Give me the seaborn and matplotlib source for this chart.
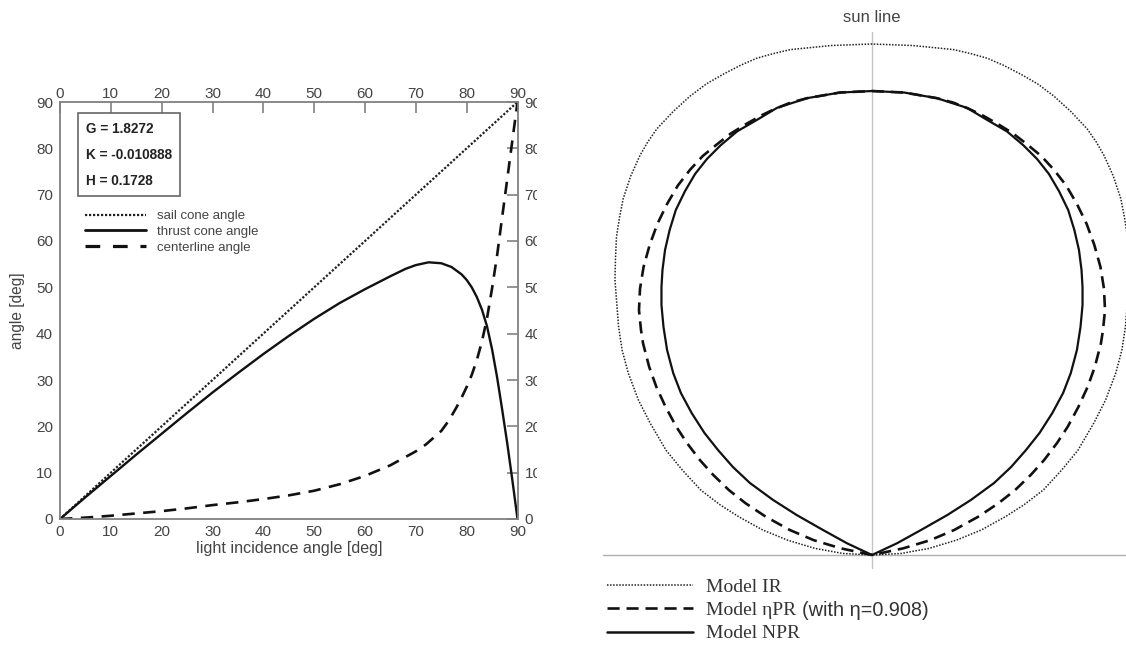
import numpy as np
import matplotlib
matplotlib.use("Agg")
import matplotlib.pyplot as plt
import matplotlib.transforms as mtransforms
import seaborn as sns
from matplotlib.lines import Line2D

# ---------------- left panel data (deg) ----------------
sail_x = [0, 90]
sail_y = [0, 90]
thrust_x = [0, 5, 10, 15, 20, 25, 30, 35, 40, 45, 50, 55, 60, 65, 68, 70, 72.5, 75, 77, 79, 80,
            81, 82, 83, 84, 85, 86, 87, 88, 89, 90]
thrust_y = [0, 4.7, 9.3, 13.9, 18.4, 22.9, 27.3, 31.5, 35.6, 39.5, 43.2, 46.6, 49.6, 52.4, 54.0,
            54.8, 55.4, 55.2, 54.4, 52.8, 51.6, 50.0, 47.9, 45.2, 41.6, 36.6, 30.5, 23.5, 16.2, 8.3, 0]
center_x = [0, 5, 10, 15, 20, 25, 30, 35, 40, 45, 50, 55, 60, 65, 70, 72, 75, 76, 77, 78, 79, 80,
            81, 82, 83, 84, 85, 86, 87, 88, 89, 90]
center_y = [0, 0.3, 0.7, 1.2, 1.7, 2.3, 3.0, 3.6, 4.3, 5.1, 6.1, 7.5, 9.3, 11.6, 14.6, 16.1, 19.0,
            20.5, 22.2, 24.1, 26.2, 28.5, 31.1, 34.3, 38.3, 43.3, 49.8, 57.0, 65.3, 73.5, 81.8, 90]
ticks = [0, 10, 20, 30, 40, 50, 60, 70, 80, 90]
params_text = ["G = 1.8272", "K = -0.010888", "H = 0.1728"]
left_labels = ["sail cone angle", "thrust cone angle", "centerline angle"]

# ---------------- right panel data: right half of each force bubble ----------------
# (perpendicular component, sun-line component), normalised to the ideal maximum
ir_perp = [0, .080, .160, .194, .226, .258, .291, .324, .356, .389, .421, .439, .454, .472, .487,
           .494, .500, .502, .503, .500, .496, .489, .477, .457, .434, .403, .371, .335, .297,
           .261, .214, .165, .112, .057, 0]
ir_sun = [1.0, .997, .989, .981, .972, .958, .941, .922, .898, .868, .834, .808, .782, .742, .697,
          .661, .623, .581, .538, .499, .447, .401, .356, .303, .258, .205, .166, .127, .098,
          .075, .049, .029, .013, .003, 0]
epr_perp = [0, .063, .127, .160, .190, .217, .247, .276, .303, .331, .356, .380, .401, .420, .435,
            .447, .454, .456, .452, .448, .436, .422, .404, .383, .362, .337, .311, .280, .247,
            .208, .161, .114, .061, 0]
epr_sun = [.908, .905, .894, .885, .873, .860, .843, .825, .804, .781, .754, .723, .687, .648, .607,
           .564, .521, .479, .440, .414, .368, .329, .290, .251, .219, .186, .157, .127, .101,
           .075, .049, .029, .013, 0]
npr_perp = [0, .063, .127, .186, .226, .264, .296, .323, .346, .366, .384, .396, .405, .410, .412,
            .412, .408, .401, .389, .374, .353, .328, .301, .272, .239, .194, .147, .096, .049, 0]
npr_sun = [.908, .905, .894, .875, .851, .829, .802, .775, .746, .712, .675, .636, .597, .558, .524,
           .489, .446, .401, .356, .317, .278, .239, .205, .172, .141, .108, .078, .049, .023, 0]
right_labels = ["Model IR", "Model \u03b7PR", "Model NPR"]
right_extra = "(with \u03b7=0.908)"

sns.set_theme(style="white")
plt.rcParams["font.family"] = ["Liberation Sans", "DejaVu Sans"]

W, H = 1126, 646
fig = plt.figure(figsize=(W / 100, H / 100), dpi=100)
fig.patch.set_facecolor("white")

# ---------------- left axes ----------------
L, R, T, B = 60, 517.5, 102, 519
ax = fig.add_axes([L / W, (H - B) / H, (R - L) / W, (B - T) / H])
ax.set_zorder(0)
gray = "#444444"
dash_l = (0, (4.7, 3.2))
dot_l = (0, (1, 0.8))
sns.lineplot(x=sail_x, y=sail_y, ax=ax, color="#222222", lw=1.6, linestyle=dot_l)
sns.lineplot(x=thrust_x, y=thrust_y, ax=ax, color="#111111", lw=1.7, sort=False)
sns.lineplot(x=center_x, y=center_y, ax=ax, color="#111111", lw=1.9, linestyle=dash_l, sort=False)
ax.set_xlim(0, 90)
ax.set_ylim(0, 90)
ax.set_xticks(ticks)
ax.set_yticks(ticks)
ax.tick_params(axis="both", direction="in", length=8, width=1.1, color="#777777",
               labelsize=11, labelcolor=gray, top=True, right=True,
               labeltop=True, labelright=True)
ax.tick_params(axis="x", which="both", pad=4)
ax.tick_params(axis="y", which="both", pad=5)
for s in ax.spines.values():
    s.set_color("#808080")
    s.set_linewidth(1.3)
ax.set_xlabel("light incidence angle [deg]", fontsize=11.6, color=gray, labelpad=2)
ax.set_ylabel("angle [deg]", fontsize=11.2, color=gray, labelpad=8)
ax.grid(False)

ax.text(0.057, 0.953, "\n".join(params_text), transform=ax.transAxes, va="top", ha="left",
        fontsize=9.8, fontweight="bold", color="#222222", linespacing=2.12,
        bbox=dict(boxstyle="square,pad=0.6", fc="white", ec="#666666", lw=1.2))

lh = [Line2D([], [], color="#222222", lw=1.6, linestyle=dot_l),
      Line2D([], [], color="#111111", lw=2.0),
      Line2D([], [], color="#111111", lw=2.3, linestyle=(0, (4.6, 4.0)))]
leg = ax.legend(lh, left_labels, loc="upper left", bbox_to_anchor=((85 - L) / (R - L), (B - 210) / (B - T)),
                frameon=False, fontsize=9.5, handlelength=4.6, handletextpad=0.85,
                labelspacing=0.27, borderpad=0, borderaxespad=0)
for t in leg.get_texts():
    t.set_color(gray)

# top tick labels sit a little closer to the frame
for tk in ax.xaxis.get_major_ticks():
    tk.label2.set_transform(tk.label2.get_transform() +
                            mtransforms.ScaledTranslation(0, -3.5 / 72, fig.dpi_scale_trans))

# ---------------- right axes ----------------
k = 511.0
ox, oy = 872.0, 555.0
RL, RR, RT, RB = 537, 1126, 0, 575
ax2 = fig.add_axes([RL / W, (H - RB) / H, (RR - RL) / W, (RB - RT) / H])
ax2.set_zorder(1)
ax2.set_facecolor("white")
ax2.set_xlim((RL - ox) / k, (RR - ox) / k)
ax2.set_ylim((oy - RB) / k, (oy - RT) / k)
ax2.set_xticks([])
ax2.set_yticks([])
for s in ax2.spines.values():
    s.set_visible(False)
ax2.grid(False)

sun_x = [0, 0]
sun_y = [-0.025, 1.023]
base_x = [(603 - ox) / k, 0.6]
base_y = [0, 0]
ax2.plot(sun_x, sun_y, color="#c4c4c4", lw=1.0, zorder=1)
ax2.plot(base_x, base_y, color="#b0b0b0", lw=1.0, zorder=1)


def bubble(perp, sun):
    x = np.asarray(perp, float)
    y = np.asarray(sun, float)
    xf = np.concatenate([-x[::-1], x[1:]])
    yf = np.concatenate([y[::-1], y[1:]])
    return xf, yf


dash_r = (0, (4.6, 2.6))
dot_r = (0, (1, 1))
xi, yi = bubble(ir_perp, ir_sun)
xe, ye = bubble(epr_perp, epr_sun)
xn, yn = bubble(npr_perp, npr_sun)
sns.lineplot(x=xi, y=yi, ax=ax2, sort=False, estimator=None, color="#222222", lw=1.1,
             linestyle=dot_r, zorder=3)
sns.lineplot(x=xe, y=ye, ax=ax2, sort=False, estimator=None, color="#111111", lw=1.9,
             linestyle=dash_r, zorder=3)
sns.lineplot(x=xn, y=yn, ax=ax2, sort=False, estimator=None, color="#111111", lw=1.6, zorder=4)
ax2.set_xlabel("")
ax2.set_ylabel("")

ax2.text(0, (oy - 17) / k, "sun line", ha="center", va="center", fontsize=12, color=gray)

rh = [Line2D([], [], color="#222222", lw=1.1, linestyle=dot_r),
      Line2D([], [], color="#111111", lw=1.9, linestyle=dash_r),
      Line2D([], [], color="#111111", lw=1.8)]
leg2 = fig.legend(rh, right_labels, loc="upper left",
                  bbox_to_anchor=(607 / W, (H - 578) / H), frameon=False,
                  prop={"family": "Liberation Serif", "size": 14},
                  handlelength=4.4, handletextpad=0.7, labelspacing=0.3,
                  borderpad=0, borderaxespad=0)
for t in leg2.get_texts():
    t.set_color("#333333")

fig.canvas.draw()
r = fig.canvas.get_renderer()
bb = leg2.get_texts()[1].get_window_extent(r)
fig.text((bb.x1 + 6) / W, (bb.y0 + bb.y1) / 2 / H, right_extra, ha="left", va="center",
         fontsize=14.3, color="#333333", family=["Liberation Sans", "DejaVu Sans"])

fig.savefig("out.png", dpi=100, facecolor="white")
